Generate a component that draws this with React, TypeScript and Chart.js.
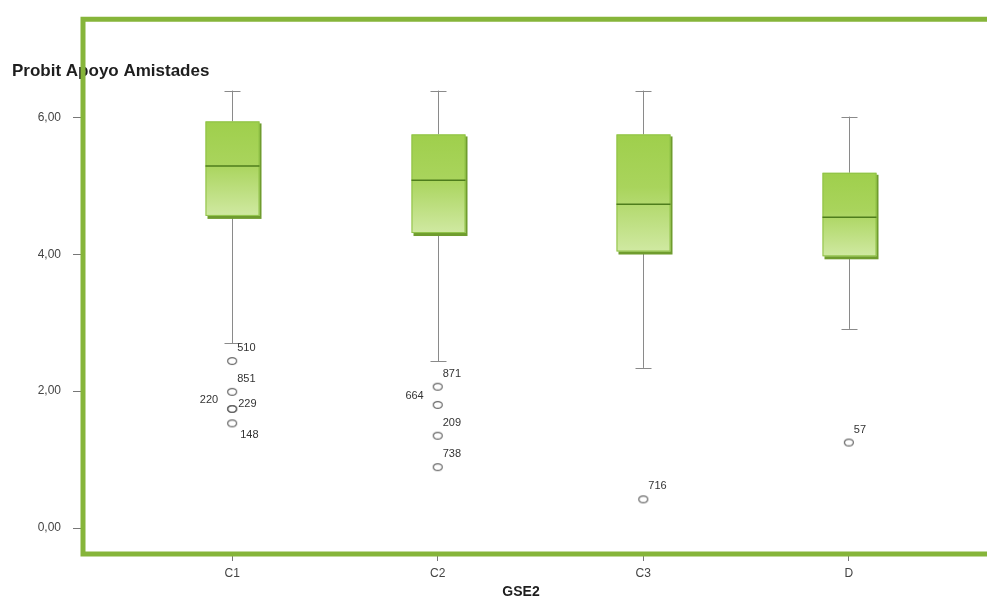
import React, { useEffect, useRef } from 'react';
import { Chart, registerables } from 'chart.js';

Chart.register(...registerables);

const categories = ['C1', 'C2', 'C3', 'D'];
const whiskerHigh = [6.39, 6.39, 6.39, 6.01];
const upperQuartile = [5.94, 5.75, 5.75, 5.19];
const medians = [5.29, 5.08, 4.73, 4.54];
const lowerQuartile = [4.56, 4.31, 4.04, 3.97];
const whiskerLow = [2.70, 2.44, 2.34, 2.91];

const outlierCategory = [1, 1, 1, 1, 1, 2, 2, 2, 2, 3, 4];
const outlierValues = [2.44, 1.99, 1.74, 1.74, 1.53, 2.065, 1.8, 1.35, 0.89, 0.42, 1.25];
const outlierIds = ['510', '851', '220', '229', '148', '871', '664', '209', '738', '716', '57'];
const outlierLabelSide = ['ne', 'ne', 'w', 'e', 'se', 'ne', 'w', 'ne', 'ne', 'ne', 'ne'];

const yTicks = [0, 2, 4, 6];
const yTitle = 'Probit Apoyo Amistades';
const xTitle = 'GSE2';

const FONT = "'Liberation Sans', Arial, sans-serif";

const boxPlugin = {
  id: 'spssBoxes',
  beforeDatasetsDraw(chart: any) {
    const { ctx, scales } = chart;
    const x = scales.x;
    const y = scales.y;
    const halfW = 27;
    ctx.save();
    categories.forEach((_, i) => {
      const cx = Math.round(x.getPixelForValue(i + 1)) + 0.5;
      const yHi = y.getPixelForValue(whiskerHigh[i]);
      const yQ3 = y.getPixelForValue(upperQuartile[i]);
      const yMed = y.getPixelForValue(medians[i]);
      const yQ1 = y.getPixelForValue(lowerQuartile[i]);
      const yLo = y.getPixelForValue(whiskerLow[i]);
      ctx.strokeStyle = '#8a8a8a';
      ctx.lineWidth = 1;
      ctx.beginPath();
      ctx.moveTo(cx, yHi);
      ctx.lineTo(cx, yQ3);
      ctx.moveTo(cx, yQ1);
      ctx.lineTo(cx, yLo);
      ctx.moveTo(cx - 8, Math.round(yHi) + 0.5);
      ctx.lineTo(cx + 8, Math.round(yHi) + 0.5);
      ctx.moveTo(cx - 8, Math.round(yLo) + 0.5);
      ctx.lineTo(cx + 8, Math.round(yLo) + 0.5);
      ctx.stroke();
      const left = cx - halfW;
      const w = halfW * 2;
      ctx.fillStyle = '#6f9c2e';
      ctx.fillRect(left + 2, yQ3 + 2, w, yQ1 - yQ3 + 1);
      const g = ctx.createLinearGradient(0, yQ3, 0, yQ1);
      g.addColorStop(0, '#9fcf4c');
      g.addColorStop(0.45, '#a9d45c');
      g.addColorStop(1, '#d0e9a2');
      ctx.fillStyle = g;
      ctx.fillRect(left, yQ3, w, yQ1 - yQ3);
      ctx.strokeStyle = '#8fc247';
      ctx.lineWidth = 1;
      ctx.strokeRect(left + 0.5, yQ3 + 0.5, w - 1, yQ1 - yQ3 - 1);
      ctx.strokeStyle = '#4e7d1c';
      ctx.lineWidth = 1.5;
      ctx.beginPath();
      ctx.moveTo(left, yMed);
      ctx.lineTo(left + w, yMed);
      ctx.stroke();
    });
    ctx.restore();
  },
  afterDraw(chart: any) {
    const { ctx, chartArea } = chart;
    ctx.save();
    const meta = chart.getDatasetMeta(0);
    ctx.font = `11px ${FONT}`;
    ctx.fillStyle = '#333';
    ctx.textBaseline = 'middle';
    meta.data.forEach((pt: any, i: number) => {
      const side = outlierLabelSide[i];
      let dx = 5;
      let dy = -13;
      ctx.textAlign = 'left';
      if (side === 'w') {
        dx = -14;
        dy = -9;
        ctx.textAlign = 'right';
      } else if (side === 'e') {
        dx = 6;
        dy = -5;
      } else if (side === 'se') {
        dx = 8;
        dy = 12;
      }
      ctx.fillText(outlierIds[i], pt.x + dx, pt.y + dy);
    });
    ctx.font = `bold 17px ${FONT}`;
    ctx.fillStyle = '#1e1e1e';
    ctx.textAlign = 'left';
    ctx.textBaseline = 'middle';
    ctx.fillText(yTitle, 12, 71);
    ctx.font = `bold 14px ${FONT}`;
    ctx.textAlign = 'center';
    ctx.fillText(xTitle, 521, 592);
    ctx.strokeStyle = '#86b53a';
    ctx.lineWidth = 5;
    ctx.lineJoin = 'miter';
    ctx.beginPath();
    ctx.moveTo(chart.width + 5, chartArea.top);
    ctx.lineTo(chartArea.left, chartArea.top);
    ctx.lineTo(chartArea.left, chartArea.bottom);
    ctx.lineTo(chart.width + 5, chartArea.bottom);
    ctx.stroke();
    ctx.restore();
  },
};

function makeEllipse(): HTMLCanvasElement {
  const c = document.createElement('canvas');
  c.width = 12;
  c.height = 10;
  const g = c.getContext('2d')!;
  g.strokeStyle = '#666';
  g.lineWidth = 1.2;
  g.beginPath();
  g.ellipse(6, 5, 4.5, 3.4, 0, 0, Math.PI * 2);
  g.stroke();
  return c;
}

export default function App() {
  const ref = useRef<HTMLCanvasElement | null>(null);
  useEffect(() => {
    if (!ref.current) return;
    const ellipse = makeEllipse();
    const chart = new Chart(ref.current, {
      type: 'scatter',
      data: {
        datasets: [
          {
            label: 'outliers',
            data: outlierValues.map((v, i) => ({ x: outlierCategory[i], y: v })),
            pointStyle: ellipse as any,
            pointRadius: 5,
          },
        ],
      },
      options: {
        animation: false,
        responsive: false,
        devicePixelRatio: 1,
        layout: { padding: { top: 17, right: 0, left: 0, bottom: 0 } },
        plugins: { legend: { display: false }, tooltip: { enabled: false } },
        scales: {
          x: {
            type: 'linear',
            min: 0.2742,
            max: 4.643,
            afterBuildTicks: (s: any) => {
              s.ticks = categories.map((_, i) => ({ value: i + 1 }));
            },
            afterFit: (s: any) => {
              s.height = 47;
            },
            border: { display: false },
            grid: { drawOnChartArea: false, drawTicks: true, tickLength: 7, color: '#777' },
            ticks: {
              callback: (v: any) => categories[Math.round(v) - 1] ?? '',
              font: { family: FONT, size: 12 },
              color: '#444',
              padding: 5,
              maxRotation: 0,
              autoSkip: false,
            },
          },
          y: {
            type: 'linear',
            min: -0.378,
            max: 7.433,
            afterBuildTicks: (s: any) => {
              s.ticks = yTicks.map((v) => ({ value: v }));
            },
            afterFit: (s: any) => {
              s.width = 83;
            },
            border: { display: false },
            grid: { drawOnChartArea: false, drawTicks: true, tickLength: 10, color: '#777' },
            ticks: {
              callback: (v: any) => Number(v).toFixed(2).replace('.', ','),
              font: { family: FONT, size: 12 },
              color: '#444',
              padding: 12,
            },
          },
        },
      },
      plugins: [boxPlugin],
    });
    return () => chart.destroy();
  }, []);
  return (
    <div style={{ position: 'fixed', left: 0, top: 0, width: 987, height: 601, background: '#fff' }}>
      <canvas ref={ref} width={987} height={601} style={{ display: 'block' }} />
    </div>
  );
}
